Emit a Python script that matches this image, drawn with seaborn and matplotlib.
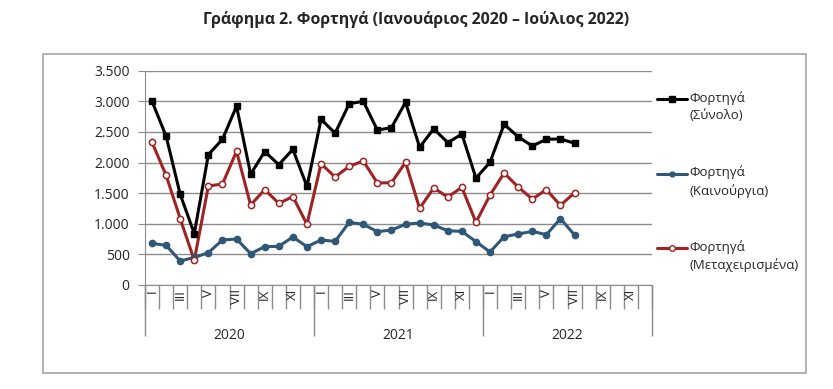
import matplotlib
matplotlib.use("Agg")
import matplotlib.pyplot as plt
import matplotlib.ticker as mticker
from matplotlib.patches import Rectangle
import seaborn as sns
import pandas as pd
import numpy as np

# monthly values, Jan 2020 - Jul 2022
total = [3000, 2430, 1480, 840, 2130, 2380, 2920, 1810, 2180, 1965, 2215, 1610,
         2705, 2480, 2960, 3000, 2530, 2570, 2985, 2250, 2550, 2325, 2465, 1745,
         2005, 2625, 2420, 2270, 2380, 2385, 2315]
new = [680, 648, 392, 450, 528, 735, 751, 512, 626, 631, 784, 626,
       735, 713, 1023, 991, 871, 898, 991, 1013, 980, 887, 876, 708,
       539, 789, 833, 876, 822, 1083, 817]
used = [2330, 1790, 1083, 403, 1617, 1649, 2183, 1306, 1557, 1334, 1443, 991,
        1981, 1764, 1938, 2025, 1666, 1671, 2003, 1252, 1584, 1437, 1595, 1023,
        1470, 1829, 1600, 1404, 1557, 1301, 1508]
months = ["I", "II", "III", "IV", "V", "VI", "VII", "VIII", "IX", "X", "XI", "XII"]
years = ["2020", "2021", "2022"]
names = ["Φορτηγά\n(Σύνολο)", "Φορτηγά\n(Καινούργια)", "Φορτηγά\n(Μεταχειρισμένα)"]
colors = ["#000000", "#2f5778", "#a02323"]

sns.set_style("white")
plt.rcParams["font.family"] = ["Open Sans", "DejaVu Sans"]

n = len(total)
df = pd.DataFrame({
    "idx": list(range(n)) * 3,
    "value": total + new + used,
    "series": [names[0]] * n + [names[1]] * n + [names[2]] * n,
})

fig = plt.figure(figsize=(8.33, 3.89), dpi=100)
ax = fig.add_axes([145 / 833, 1 - 285 / 389, (652 - 145) / 833, (285 - 70.7) / 389])

sns.lineplot(data=df, x="idx", y="value", hue="series", palette=colors,
             hue_order=names, linewidth=2.2, ax=ax, legend=False)
# markers per series
ax.plot(range(n), total, ls="none", marker="s", ms=5, color=colors[0])
ax.plot(range(n), new, ls="none", marker="o", ms=4.5, color=colors[1])
ax.plot(range(n), used, ls="none", marker="o", ms=4.5, mfc="white", mec=colors[2], mew=1.1)

ax.set_xlim(-0.5, 35.5)
ax.set_ylim(0, 3500)
ax.yaxis.set_major_locator(mticker.MultipleLocator(500))
ax.yaxis.set_major_formatter(mticker.FuncFormatter(lambda v, p: f"{int(v):,}".replace(",", ".")))
ax.grid(axis="y", color="#8c8c8c", lw=1)
for s in ["top", "right"]:
    ax.spines[s].set_visible(False)
for s in ["left", "bottom"]:
    ax.spines[s].set_color("#8c8c8c")
ax.tick_params(axis="y", left=True, length=5, color="#8c8c8c", labelsize=10, pad=6)
ax.set_xlabel("")
ax.set_ylabel("")

# month separators and labels
ax.set_xticks(np.arange(-0.5, 36, 1))
ax.set_xticklabels([])
ax.tick_params(axis="x", which="major", bottom=True, length=17, color="#8c8c8c", width=1)
ax.set_xticks(np.arange(0, 36, 2), minor=True)
ax.set_xticklabels(months[::2] * 3, minor=True, rotation=90, fontsize=9.5)
ax.tick_params(axis="x", which="minor", length=0, pad=3)
for lab in ax.get_xticklabels(minor=True):
    lab.set_verticalalignment("top")

# year group axis
yax = ax.secondary_xaxis("bottom")
yax.spines["bottom"].set_visible(False)
yax.set_xticks([-0.5, 11.5, 23.5, 35.5])
yax.set_xticklabels([])
yax.tick_params(axis="x", which="major", length=37, color="#8c8c8c", width=1)
yax.set_xticks([5.5, 17.5, 29.5], minor=True)
yax.set_xticklabels(years, minor=True, fontsize=10)
yax.tick_params(axis="x", which="minor", length=0, pad=31)

# legend, handle aligned with first text line
styles = [dict(marker="s", ms=4), dict(marker="o", ms=3.5),
          dict(marker="o", ms=4, mfc="white", mec=colors[2])]
for i, (name, col, st) in enumerate(zip(names, colors, styles)):
    yy = 1 - (99 + 74.5 * i) / 389
    fig.add_artist(plt.Line2D([657 / 833, 687 / 833], [yy, yy], color=col, lw=2.2,
                              transform=fig.transFigure))
    fig.add_artist(plt.Line2D([672 / 833], [yy], color=col, ls="none",
                              transform=fig.transFigure, **st))
    fig.text(689 / 833, yy + 8 / 389, name, ha="left", va="top", fontsize=9.5,
             linespacing=1.4)

fig.patches.append(Rectangle((42.7 / 833, 1 - 373 / 389), (806 - 42.7) / 833, (373 - 54) / 389,
                             transform=fig.transFigure, fill=False, ec="#a6a6a6", lw=1.2))
fig.text(0.5, 1 - 20 / 389, "Γράφημα 2. Φορτηγά (Ιανουάριος 2020 – Ιούλιος 2022)",
         ha="center", va="center", fontsize=11.4, fontweight="bold")

fig.savefig("out.png", dpi=100)
